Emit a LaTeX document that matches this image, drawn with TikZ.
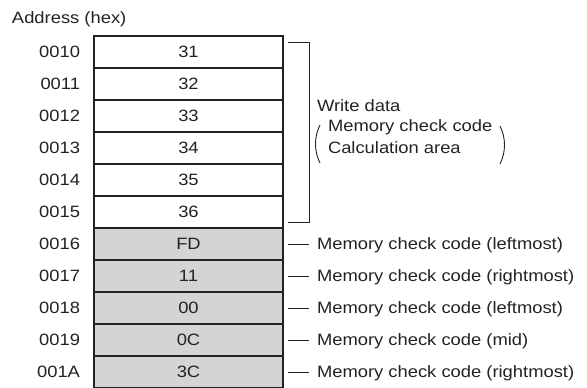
\documentclass[tikz,border=0pt]{standalone}
\usepackage{fontspec}
\setmainfont[FakeStretch=1.12]{Liberation Sans}
\definecolor{ink}{HTML}{222222}
\definecolor{cellgray}{HTML}{D4D4D4}
\begin{document}
\begin{tikzpicture}[x=1pt,y=-1pt,
  every node/.style={inner sep=0pt,outer sep=0pt,text=ink,font=\fontsize{16.4}{22}\selectfont,text height=11.7pt,text depth=0pt},
  cell/.style={draw=ink,line width=1.3pt,minimum width=189pt,minimum height=32pt,anchor=north west},
  graycell/.style={cell,fill=cellgray},
  addr/.style={anchor=east},
  lbl/.style={anchor=west},
  tick/.style={draw=ink,line width=1pt}]
\useasboundingbox (0,0) rectangle (587,388);
\node[anchor=west] (title) at (12,18) {Address (hex)};
% cells
\foreach \i/\a/\v in {0/0010/31,1/0011/32,2/0012/33,3/0013/34,4/0014/35,5/0015/36}{
  \node[cell] (c\i) at (94,{36+32*\i}) {\v};
  \node[addr] (a\i) at (80,{52+32*\i}) {\a};
}
\foreach \i/\a/\v/\t in {6/0016/FD/leftmost,7/0017/11/rightmost,8/0018/00/leftmost,9/0019/0C/mid,10/001A/3C/rightmost}{
  \node[graycell] (c\i) at (94,{36+32*\i}) {\v};
  \node[addr] (a\i) at (80,{52+32*\i}) {\a};
  \coordinate (d\i) at ([xshift=5pt]c\i.east);
  \node[lbl] (l\i) at ([xshift=34pt]c\i.east) {Memory check code (\t)};
  \draw[tick] (d\i) -- ([xshift=26pt]c\i.east);
}
% bracket
\coordinate (bt) at ([xshift=5pt,yshift=10pt]c0.east);
\coordinate (bb) at ([xshift=5pt,yshift=-10pt]c5.east);
\draw[tick] (bt) -- ++(21,0) |- (bb);
\node[lbl] (wd) at (317,106) {Write data};
\node[lbl] (m1) at (328,126) {Memory check code};
\node[lbl] (m2) at (328,148) {Calculation area};
\draw[ink,line width=0.9pt] (320,125) .. controls (314,137) and (314,151) .. (320,163);
\draw[ink,line width=0.9pt] (500,126) .. controls (506,138) and (506,152) .. (500,164);
\end{tikzpicture}
\end{document}
